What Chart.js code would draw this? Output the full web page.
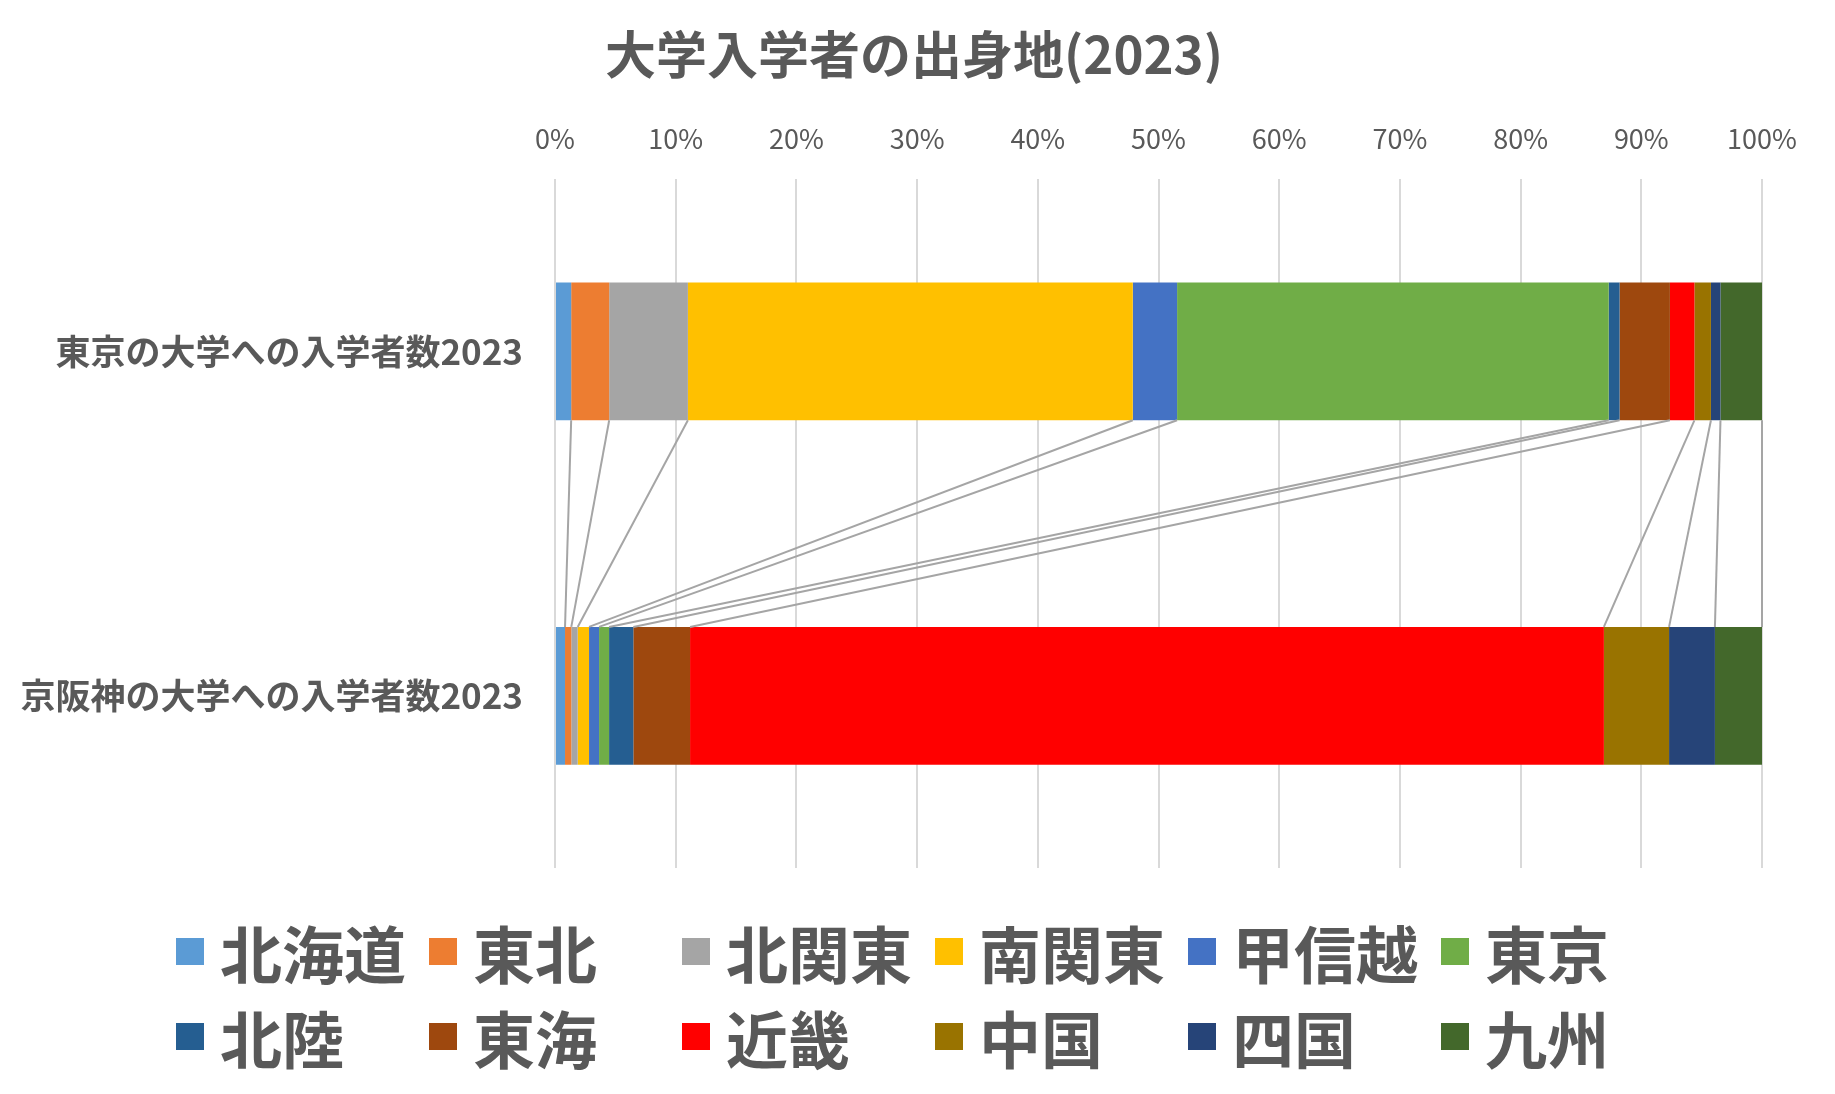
<!DOCTYPE html>
<html lang="ja">
<head>
<meta charset="utf-8">
<script src="https://cdn.jsdelivr.net/npm/chart.js@4.4.1/dist/chart.umd.min.js"></script>
<style>
  html,body{margin:0;padding:0;background:#fff;}
  #wrap{position:relative;width:1835px;height:1094px;}
  #legendBox{position:absolute;left:176px;top:909px;display:grid;grid-template-columns:repeat(6,253px);grid-auto-rows:85px;}
  .lgItem{display:flex;align-items:center;font-family:"Noto Sans CJK JP",sans-serif;font-weight:700;font-size:62px;color:#595959;line-height:1;white-space:nowrap;}
  .lgBox{width:28px;height:27px;margin-right:16px;flex:none;}
</style>
</head>
<body>
<div id="wrap">
  <canvas id="chart"></canvas>
  <div id="legendBox"></div>
</div>
<script>
const categories = ['東京の大学への入学者数2023', '京阪神の大学への入学者数2023'];
const regions = ['北海道','東北','北関東','南関東','甲信越','東京','北陸','東海','近畿','中国','四国','九州'];
// share of entrants by home region (%)
const tokyoShares      = [1.34, 3.15, 6.52, 36.86, 3.67, 35.76, 0.90, 4.17, 2.03, 1.37, 0.79, 3.44];
const keihanshinShares = [0.83, 0.52, 0.53, 0.94, 0.83, 0.83, 2.01, 4.70, 75.71, 5.40, 3.80, 3.90];
const tickValues = [0,10,20,30,40,50,60,70,80,90,100];
const colors = ['#5B9BD5','#ED7D31','#A5A5A5','#FFC000','#4472C4','#70AD47',
                '#255E91','#9E480E','#FF0000','#997300','#264478','#43682B'];

const FONT = '"Noto Sans CJK JP", sans-serif';
const GRAY = '#595959';

/* excel style series lines between the two stacks */
const seriesLines = {
  id:'seriesLines',
  afterDatasetsDraw(chart){
    const ctx = chart.ctx;
    ctx.save();
    ctx.strokeStyle = '#A5A5A5';
    ctx.lineWidth = 2;
    chart.data.datasets.forEach((ds,i)=>{
      const meta = chart.getDatasetMeta(i);
      const a = meta.data[0], b = meta.data[1];
      if(!a || !b) return;
      ctx.beginPath();
      ctx.moveTo(a.x, a.y + a.height/2);
      ctx.lineTo(b.x, b.y - b.height/2);
      ctx.stroke();
    });
    ctx.restore();
  }
};

const chart = new Chart(document.getElementById('chart'),{
  type:'bar',
  data:{
    labels:categories,
    datasets:regions.map((r,i)=>({
      label:r,
      data:[tokyoShares[i], keihanshinShares[i]],
      backgroundColor:colors[i],
      borderWidth:0,
      categoryPercentage:0.4,
      barPercentage:1
    }))
  },
  options:{
    indexAxis:'y',
    responsive:true,
    maintainAspectRatio:false,
    animation:false,
    layout:{ padding:{ left:0, right:7, top:0, bottom:226 } },
    plugins:{
      legend:{ display:false },
      tooltip:{ enabled:false },
      title:{
        display:true,
        text:'大学入学者の出身地(2023)',
        color:GRAY,
        font:{ family:FONT, size:51, weight:'bold' },
        padding:{ top:24, bottom:2 }
      }
    },
    scales:{
      x:{
        position:'top',
        stacked:true,
        min:0, max:100,
        afterBuildTicks:s=>{ s.ticks = tickValues.map(v=>({value:v})); },
        afterFit:s=>{ s.height = 92; },
        ticks:{
          color:GRAY,
          font:{ family:FONT, size:27 },
          padding:24,
          callback:v=>v+'%'
        },
        grid:{ color:'#D9D9D9', lineWidth:2, drawTicks:false },
        border:{ display:false }
      },
      y:{
        stacked:true,
        afterFit:s=>{ s.width = 555; },
        ticks:{
          color:GRAY,
          font:{ family:FONT, size:35, weight:'bold' },
          padding:32
        },
        grid:{ display:false, drawTicks:false },
        border:{ display:false }
      },
      /* empty right gutter so the title sits where excel put it */
      y2:{
        type:'linear',
        position:'right',
        afterFit:s=>{ s.width = 66; },
        ticks:{ display:false },
        grid:{ display:false, drawTicks:false },
        border:{ display:false }
      }
    }
  },
  plugins:[seriesLines]
});

/* legend as a fixed 6 column grid like excel */
const lg = document.getElementById('legendBox');
chart.data.datasets.forEach(ds=>{
  const item = document.createElement('div');
  item.className = 'lgItem';
  item.innerHTML = `<span class="lgBox" style="background:${ds.backgroundColor}"></span><span>${ds.label}</span>`;
  lg.appendChild(item);
});
</script>
</body>
</html>
